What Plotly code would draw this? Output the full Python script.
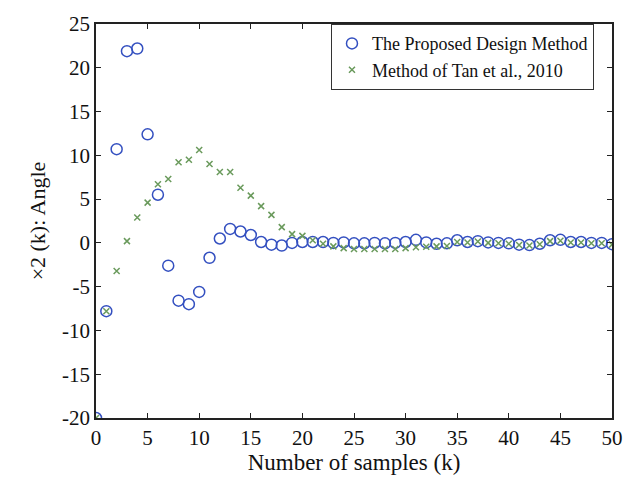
import plotly.graph_objects as go

k = list(range(51))

proposed = [-20.0, -7.8, 10.7, 21.9, 22.2, 12.4, 5.5, -2.6, -6.6, -7.0,
            -5.6, -1.7, 0.5, 1.6, 1.3, 0.9, 0.1, -0.2, -0.3, 0.0,
            0.1, 0.1, 0.1, 0.0, 0.05, -0.05, -0.05, 0.0, -0.05, 0.0,
            0.1, 0.35, 0.05, -0.1, -0.05, 0.3, 0.1, 0.2, 0.05, 0.0,
            -0.05, -0.2, -0.25, -0.1, 0.3, 0.35, 0.1, 0.1, 0.0, 0.0,
            -0.15]

tan2010 = [-20.0, -7.8, -3.2, 0.2, 2.9, 4.6, 6.7, 7.3, 9.2, 9.5,
           10.6, 9.0, 8.1, 8.1, 6.3, 5.4, 4.2, 3.2, 1.8, 1.0,
           0.8, 0.3, -0.1, -0.4, -0.6, -0.7, -0.7, -0.7, -0.7, -0.7,
           -0.6, -0.5, -0.45, -0.4, -0.35, 0.1, 0.05, 0.15, 0.0, -0.05,
           -0.1, -0.25, -0.3, -0.15, 0.2, 0.25, 0.05, 0.05, -0.05, -0.05,
           -0.2]

x_ticks = list(range(0, 51, 5))
y_ticks = list(range(-20, 26, 5))
y_tick_text = [str(v) for v in y_ticks]  # plain hyphen for negatives

BLUE = "#3450c0"
GREEN = "#6a9a5c"
FONT = "Liberation Serif"

fig = go.Figure()
fig.add_trace(go.Scatter(
    x=k, y=proposed, mode="markers", name="The Proposed Design Method",
    marker=dict(symbol="circle-open", size=11, color=BLUE,
                line=dict(width=1.5, color=BLUE)),
))
fig.add_trace(go.Scatter(
    x=k, y=tan2010, mode="markers", name="Method of Tan et al., 2010",
    marker=dict(symbol="x-thin", size=6, color=GREEN,
                line=dict(width=1.5, color=GREEN)),
))

axis_common = dict(
    showgrid=False, zeroline=False, showline=True, linecolor="#222222",
    linewidth=1.5, mirror="allticks", ticks="inside", ticklen=5,
    tickwidth=1.2, tickcolor="#222222",
    tickfont=dict(family=FONT, size=21, color="#111111"),
)

fig.update_layout(
    width=635, height=480,
    margin=dict(l=96, r=23, t=16, b=60),
    paper_bgcolor="white", plot_bgcolor="white",
    font=dict(family=FONT, color="#111111"),
    xaxis=dict(range=[0, 50], tickvals=x_ticks,
               title=dict(text="Number of samples (k)",
                          font=dict(family=FONT, size=23), standoff=2),
               **axis_common),
    yaxis=dict(range=[-20, 25], tickvals=y_ticks, ticktext=y_tick_text,
               title=dict(text="×2 (k): Angle",
                          font=dict(family=FONT, size=22), standoff=10),
               **axis_common),
    legend=dict(x=0.455, y=1.0, xanchor="left", yanchor="top",
                bgcolor="white", bordercolor="#333333", borderwidth=1.2,
                font=dict(family=FONT, size=18, color="#111111"),
                itemwidth=30, tracegroupgap=0),
    showlegend=True,
)

fig.write_html("out.html")
